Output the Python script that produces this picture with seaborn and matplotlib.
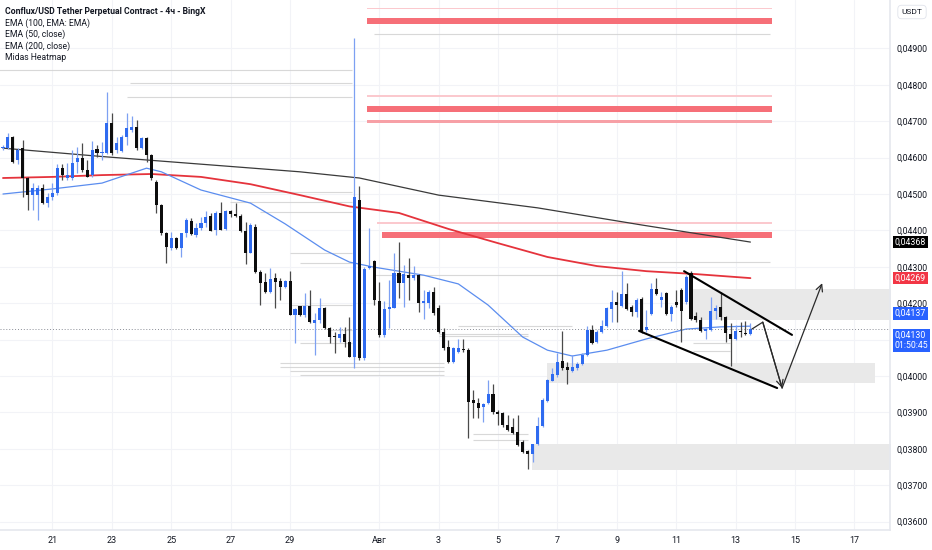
import numpy as np
import pandas as pd
import seaborn as sns
import matplotlib.pyplot as plt
import matplotlib.transforms as mtransforms

# 4h candles, first one at 19 Jul 08:00
start_time = "2025-07-19 08:00"

opens = [0.04626, 0.04626, 0.04656, 0.04594, 0.04626, 0.04543, 0.04497, 0.04497, 0.04516, 0.04476,
         0.04493, 0.04502, 0.04571, 0.04543, 0.04543, 0.04589, 0.04598, 0.04566, 0.04552, 0.04623,
         0.04612, 0.04612, 0.04694, 0.04621, 0.04619, 0.04658, 0.04676, 0.04685, 0.04626, 0.04653,
         0.04607, 0.04534, 0.04470, 0.04392, 0.04351, 0.04378, 0.04351, 0.04392, 0.04427, 0.04387,
         0.04406, 0.04420, 0.04440, 0.04401, 0.04447, 0.04403, 0.04452, 0.04444, 0.04440, 0.04399,
         0.04339, 0.04410, 0.04287, 0.04259, 0.04232, 0.04268, 0.04262, 0.04245, 0.04262, 0.04168,
         0.04191, 0.04168, 0.04192, 0.04145, 0.04154, 0.04186, 0.04131, 0.04110, 0.04105, 0.04115,
         0.04094, 0.04053, 0.04484, 0.04049, 0.04296, 0.04317, 0.04207, 0.04113, 0.04183, 0.04186,
         0.04284, 0.04256, 0.04278, 0.04268, 0.04278, 0.04200, 0.04201, 0.04230, 0.04186, 0.04122,
         0.04081, 0.04039, 0.04067, 0.04074, 0.04071, 0.03934, 0.03927, 0.03916, 0.03925, 0.03951,
         0.03902, 0.03899, 0.03865, 0.03859, 0.03847, 0.03820, 0.03795, 0.03786, 0.03812, 0.03863,
         0.03932, 0.03987, 0.04003, 0.04042, 0.04026, 0.04015, 0.04021, 0.04033, 0.04058, 0.04126,
         0.04094, 0.04122, 0.04137, 0.04183, 0.04204, 0.04193, 0.04225, 0.04189, 0.04177, 0.04211,
         0.04126, 0.04170, 0.04238, 0.04209, 0.04227, 0.04170, 0.04204, 0.04236, 0.04204, 0.04284,
         0.04165, 0.04154, 0.04125, 0.04126, 0.04180, 0.04190, 0.04163, 0.04115, 0.04101, 0.04125,
         0.04119, 0.04115]
highs = [0.04635, 0.04667, 0.04660, 0.04626, 0.04649, 0.04548, 0.04529, 0.04525, 0.04528, 0.04502,
         0.04529, 0.04583, 0.04582, 0.04584, 0.04621, 0.04630, 0.04639, 0.04594, 0.04646, 0.04635,
         0.04644, 0.04780, 0.04722, 0.04658, 0.04662, 0.04722, 0.04713, 0.04703, 0.04658, 0.04656,
         0.04609, 0.04539, 0.04473, 0.04397, 0.04397, 0.04383, 0.04394, 0.04433, 0.04433, 0.04420,
         0.04438, 0.04452, 0.04447, 0.04452, 0.04479, 0.04456, 0.04456, 0.04474, 0.04445, 0.04424,
         0.04420, 0.04418, 0.04291, 0.04282, 0.04296, 0.04282, 0.04268, 0.04264, 0.04289, 0.04186,
         0.04192, 0.04227, 0.04236, 0.04172, 0.04213, 0.04190, 0.04136, 0.04122, 0.04136, 0.04136,
         0.04163, 0.04929, 0.04522, 0.04300, 0.04407, 0.04319, 0.04259, 0.04207, 0.04264, 0.04337,
         0.04369, 0.04305, 0.04323, 0.04302, 0.04281, 0.04236, 0.04236, 0.04244, 0.04195, 0.04131,
         0.04099, 0.04081, 0.04103, 0.04103, 0.04076, 0.03962, 0.03939, 0.03925, 0.03989, 0.03978,
         0.03908, 0.03902, 0.03893, 0.03886, 0.03893, 0.03825, 0.03797, 0.03814, 0.03888, 0.03939,
         0.03991, 0.04021, 0.04062, 0.04125, 0.04039, 0.04058, 0.04039, 0.04062, 0.04137, 0.04140,
         0.04126, 0.04154, 0.04190, 0.04236, 0.04232, 0.04289, 0.04255, 0.04195, 0.04213, 0.04218,
         0.04181, 0.04255, 0.04268, 0.04232, 0.04232, 0.04195, 0.04236, 0.04241, 0.04277, 0.04289,
         0.04177, 0.04163, 0.04131, 0.04218, 0.04195, 0.04232, 0.04165, 0.04145, 0.04140, 0.04149,
         0.04152, 0.04145]
lows = [0.04621, 0.04623, 0.04586, 0.04583, 0.04493, 0.04456, 0.04456, 0.04429, 0.04473, 0.04465,
        0.04484, 0.04497, 0.04539, 0.04539, 0.04539, 0.04557, 0.04561, 0.04546, 0.04548, 0.04603,
        0.04594, 0.04610, 0.04607, 0.04612, 0.04616, 0.04635, 0.04671, 0.04621, 0.04623, 0.04589,
        0.04539, 0.04449, 0.04387, 0.04310, 0.04346, 0.04348, 0.04328, 0.04383, 0.04387, 0.04383,
        0.04401, 0.04410, 0.04399, 0.04387, 0.04401, 0.04401, 0.04438, 0.04438, 0.04397, 0.04308,
        0.04337, 0.04282, 0.04195, 0.04227, 0.04227, 0.04186, 0.04209, 0.04241, 0.04168, 0.04090,
        0.04165, 0.04163, 0.04145, 0.04058, 0.04145, 0.04128, 0.04090, 0.04062, 0.04094, 0.04081,
        0.04053, 0.04022, 0.04044, 0.04044, 0.04293, 0.04195, 0.04108, 0.04108, 0.04131, 0.04186,
        0.04213, 0.04190, 0.04209, 0.04264, 0.04177, 0.04158, 0.04186, 0.04168, 0.04117, 0.04071,
        0.04037, 0.04037, 0.04062, 0.04067, 0.03829, 0.03884, 0.03884, 0.03875, 0.03923, 0.03897,
        0.03865, 0.03861, 0.03850, 0.03842, 0.03808, 0.03789, 0.03744, 0.03765, 0.03810, 0.03861,
        0.03929, 0.03985, 0.03998, 0.04016, 0.03978, 0.04012, 0.04016, 0.04030, 0.04055, 0.04089,
        0.04090, 0.04117, 0.04136, 0.04149, 0.04149, 0.04190, 0.04181, 0.04165, 0.04163, 0.04117,
        0.04122, 0.04168, 0.04223, 0.04190, 0.04168, 0.04150, 0.04190, 0.04094, 0.04199, 0.04154,
        0.04149, 0.04122, 0.04101, 0.04125, 0.04158, 0.04154, 0.04094, 0.04027, 0.04099, 0.04108,
        0.04113, 0.04113]
closes = [0.04629, 0.04658, 0.04589, 0.04621, 0.04543, 0.04497, 0.04516, 0.04516, 0.04474, 0.04493,
          0.04502, 0.04571, 0.04552, 0.04552, 0.04584, 0.04598, 0.04566, 0.04548, 0.04621, 0.04614,
          0.04614, 0.04694, 0.04612, 0.04639, 0.04658, 0.04681, 0.04685, 0.04626, 0.04653, 0.04607,
          0.04543, 0.04470, 0.04392, 0.04355, 0.04378, 0.04351, 0.04392, 0.04429, 0.04390, 0.04406,
          0.04421, 0.04438, 0.04399, 0.04447, 0.04401, 0.04452, 0.04445, 0.04440, 0.04399, 0.04339,
          0.04415, 0.04287, 0.04255, 0.04232, 0.04266, 0.04259, 0.04245, 0.04262, 0.04168, 0.04183,
          0.04168, 0.04192, 0.04149, 0.04154, 0.04186, 0.04131, 0.04108, 0.04106, 0.04115, 0.04094,
          0.04053, 0.04493, 0.04049, 0.04293, 0.04303, 0.04209, 0.04113, 0.04183, 0.04190, 0.04284,
          0.04256, 0.04280, 0.04268, 0.04278, 0.04200, 0.04207, 0.04232, 0.04172, 0.04122, 0.04076,
          0.04039, 0.04076, 0.04076, 0.04071, 0.03930, 0.03927, 0.03911, 0.03923, 0.03951, 0.03902,
          0.03897, 0.03865, 0.03852, 0.03844, 0.03810, 0.03792, 0.03786, 0.03812, 0.03863, 0.03934,
          0.03989, 0.04005, 0.04039, 0.04021, 0.04016, 0.04024, 0.04033, 0.04058, 0.04126, 0.04092,
          0.04122, 0.04137, 0.04186, 0.04204, 0.04195, 0.04225, 0.04183, 0.04177, 0.04209, 0.04125,
          0.04134, 0.04238, 0.04225, 0.04218, 0.04170, 0.04189, 0.04195, 0.04180, 0.04271, 0.04156,
          0.04154, 0.04125, 0.04128, 0.04180, 0.04186, 0.04163, 0.04117, 0.04103, 0.04125, 0.04122,
          0.04115, 0.04130]

# EMA lines read at a few candles
ema50_idx = [0, 10, 20, 29, 32, 40, 50, 57, 65, 70, 75, 85, 92, 98, 105, 110, 115, 122, 130, 138, 145, 151]
ema50_val = [0.04500, 0.04514, 0.04530, 0.04571, 0.04561, 0.04511, 0.04475, 0.04418, 0.04346, 0.04313, 0.04299,
             0.04277, 0.04253, 0.04195, 0.04107, 0.04071, 0.04055, 0.04071, 0.04102, 0.04129, 0.04135, 0.04137]
ema100_idx = [0, 10, 20, 30, 40, 50, 60, 70, 80, 90, 100, 110, 120, 130, 140, 151]
ema100_val = [0.04544, 0.04547, 0.04552, 0.04555, 0.04547, 0.04527, 0.04497, 0.04466, 0.04448, 0.04404,
              0.04365, 0.04327, 0.04302, 0.04288, 0.04280, 0.04269]
ema200_idx = [0, 20, 40, 60, 72, 88, 108, 129, 151]
ema200_val = [0.04626, 0.04603, 0.04582, 0.04561, 0.04544, 0.04497, 0.04462, 0.04415, 0.04368]

# heatmap levels (price, from candle, to candle)
red_price = [0.05010, 0.04975, 0.04769, 0.04733, 0.04700, 0.04421, 0.04388]
red_start = [73.5, 73.5, 73.5, 73.5, 73.5, 75.6, 76.6]
red_end = [155.4, 155.4, 155.4, 155.4, 155.4, 155.4, 155.4]
red_kind = ["thin", "thick", "thin", "thick", "light", "thin", "thick"]

hm_price = [0.04841, 0.04805, 0.04766, 0.04505, 0.04478, 0.04450, 0.04338, 0.04310, 0.04195,
            0.04126, 0.04091, 0.04036, 0.04025, 0.04014, 0.04003, 0.04277, 0.04313, 0.04137,
            0.04115, 0.04110, 0.03840, 0.03825, 0.04090, 0.04070, 0.04940]
hm_start = [-1, 25.7, 25, 43.8, 45.9, 52, 58, 60, 58, 66, 60, 56, 56, 58, 60, 74.7, 116.6, 92,
            88, 88, 95, 95, 139.4, 139.4, 75]
hm_end = [70.5, 70.5, 70.5, 70.5, 70.5, 70.5, 70.5, 70.5, 70.5, 70.5, 70.5, 89, 89, 89, 89,
          128.7, 155, 115, 106, 106, 106, 106, 146.9, 146.9, 155]

# grey zones (from candle, to candle, low, high)
zone_start = [138.8, 110.0, 106.9]
zone_end = [180.0, 176.2, 180.0]
zone_low = [0.04154, 0.03980, 0.03742]
zone_high = [0.04239, 0.04036, 0.03813]

# drawings
upper_x = [137.6, 159.4]
upper_y = [0.04288, 0.04113]
lower_x = [128.5, 156.4]
lower_y = [0.04124, 0.03967]
path_x = [151.3, 153.5, 157.4, 165.5]
path_y = [0.04129, 0.04148, 0.03967, 0.04255]

price_ticks = [0.036, 0.037, 0.038, 0.039, 0.040, 0.041, 0.042, 0.043, 0.044, 0.045, 0.046, 0.047, 0.048, 0.049]
tick_dates = ["2025-07-21", "2025-07-23", "2025-07-25", "2025-07-27", "2025-07-29", "2025-08-01",
              "2025-08-03", "2025-08-05", "2025-08-07", "2025-08-09", "2025-08-11", "2025-08-13",
              "2025-08-15", "2025-08-17"]
tick_labels = ["21", "23", "25", "27", "29", "Авг", "3", "5", "7", "9", "11", "13", "15", "17"]

last_price = 0.04130

sns.set_theme(style="white")
plt.rcParams['font.family'] = ['Roboto', 'DejaVu Sans']

df = pd.DataFrame({"open": opens, "high": highs, "low": lows, "close": closes})
df["time"] = pd.date_range(start_time, periods=len(df), freq="4h")
df["i"] = np.arange(len(df))
df["up"] = df["close"] >= df["open"]

t0 = pd.Timestamp(start_time)
tick_pos = [(pd.Timestamp(d) - t0) / pd.Timedelta("4h") for d in tick_dates]

fig = plt.figure(figsize=(9.32, 5.5), dpi=100)
ax = fig.add_axes([0, 20 / 550, 890 / 932, 530 / 550])

BLUE = "#2f6bf0"
BLUE_W = "#7da0f2"
BLACK = "#0d0d0d"
BLACK_W = "#4a4a4a"

# grey zones
for a, b, lo, hi in zip(zone_start, zone_end, zone_low, zone_high):
    ax.fill_between([a, b], lo, hi, color="#e9e9e9", lw=0, zorder=1)

# heatmap lines
ax.hlines(hm_price, hm_start, hm_end, colors="#cfcfcf", lw=0.8, alpha=0.8, zorder=1)

red_style = {"thick": ("#f66f78", 0.000165), "light": ("#f7a0a6", 0.00009), "thin": ("#fbc9ce", 0.00004)}
for p, a, b, k in zip(red_price, red_start, red_end, red_kind):
    c, h = red_style[k]
    ax.fill_between([a, b], p - h / 2, p + h / 2, color=c, lw=0, zorder=2)

# EMAs
sns.lineplot(x=ema200_idx, y=ema200_val, ax=ax, color="#3a3a3a", lw=0.9, zorder=3)
sns.lineplot(x=ema100_idx, y=ema100_val, ax=ax, color="#e5333c", lw=1.3, zorder=3)
sns.lineplot(x=ema50_idx, y=ema50_val, ax=ax, color="#5b8def", lw=0.9, zorder=4)

# candles
wick_c = np.where(df["up"], BLUE_W, BLACK_W)
body_c = np.where(df["up"], BLUE, BLACK)
ax.vlines(df["i"], df["low"], df["high"], colors=wick_c, lw=0.9, zorder=5)
body_lo = df[["open", "close"]].min(axis=1)
body_h = (df["close"] - df["open"]).abs().clip(lower=0.000025)
ax.bar(df["i"], body_h, bottom=body_lo, width=0.62, color=body_c, lw=0, zorder=6)

# last price line
ax.axhline(last_price, color="#8a8d96", lw=0.7, ls=(0, (1, 2)), zorder=4)

# channel and projected path
ax.plot(upper_x, upper_y, color="black", lw=1.5, zorder=7)
ax.plot(lower_x, lower_y, color="black", lw=1.5, zorder=7)
ax.plot(path_x[:3], path_y[:3], color="#2a2a2a", lw=0.9, zorder=7)
ax.annotate("", xy=(path_x[2], path_y[2]), xytext=(path_x[1], path_y[1]),
            arrowprops=dict(arrowstyle="->", color="#2a2a2a", lw=0.9, shrinkA=0, shrinkB=0), zorder=7)
ax.annotate("", xy=(path_x[3], path_y[3]), xytext=(path_x[2], path_y[2]),
            arrowprops=dict(arrowstyle="->", color="#2a2a2a", lw=0.9, shrinkA=0, shrinkB=0), zorder=7)

ax.set_xlim(-0.6, 179.2)
ax.set_ylim(0.03577, 0.05033)
ax.set_xticks(tick_pos)
ax.set_xticklabels(tick_labels)
ax.set_yticks(price_ticks)
# the 0,04100 label sits under the last-price tag, as on the original scale
ax.set_yticklabels(["" if abs(v - 0.041) < 1e-9 else f"{v:.5f}".replace(".", ",") for v in price_ticks])
ax.yaxis.tick_right()
ax.tick_params(axis="y", length=0, pad=5, labelsize=6.3, labelcolor="#131722")
ax.tick_params(axis="x", length=0, pad=4, labelsize=6.5, labelcolor="#131722")
ax.grid(True, color="#f2f3f7", lw=0.8, zorder=0)
ax.set_axisbelow(True)
for s in ["top", "left"]:
    ax.spines[s].set_visible(False)
ax.spines["right"].set_color("#e6e8ee")
ax.spines["bottom"].set_color("#e6e8ee")
ax.set_xlabel("")
ax.set_ylabel("")

# price tags on the scale
trans = mtransforms.blended_transform_factory(ax.transAxes, ax.transData)
tags = [(ema200_val[-1], "#000000", 0), (ema100_val[-1], "#f23645", 0),
        (ema50_val[-1], "#2962ff", 9), (last_price, "#2962ff", -8.5)]
for val, col, off in tags:
    txt = f"{val:.5f}".replace(".", ",")
    if val == last_price:
        txt += "\n01:50:45"
    ax.annotate(txt, xy=(1.0, val), xycoords=trans, xytext=(3.5, off),
                textcoords="offset points", color="white", fontsize=6.3, va="center", ha="left",
                linespacing=1.2, annotation_clip=False,
                bbox=dict(boxstyle="square,pad=0.2", fc=col, ec="none"))

fig.text(912 / 932, 1 - 12 / 550, "USDT", ha="center", va="center", fontsize=6.0, color="#131722",
         bbox=dict(boxstyle="round,pad=0.45", fc="white", ec="#e0e3eb", lw=0.6))

legend_lines = ["Conflux/USD Tether Perpetual Contract - 4ч - BingX", "EMA (100, EMA: EMA)",
                "EMA (50, close)", "EMA (200, close)", "Midas Heatmap"]
for k, line in enumerate(legend_lines):
    fig.text(5 / 932, 1 - (12 + 11.3 * k) / 550, line, ha="left", va="center", fontsize=6.2,
             color="#131722", fontweight="semibold" if k == 0 else "normal")

fig.savefig("out.png", dpi=100, facecolor="white")
